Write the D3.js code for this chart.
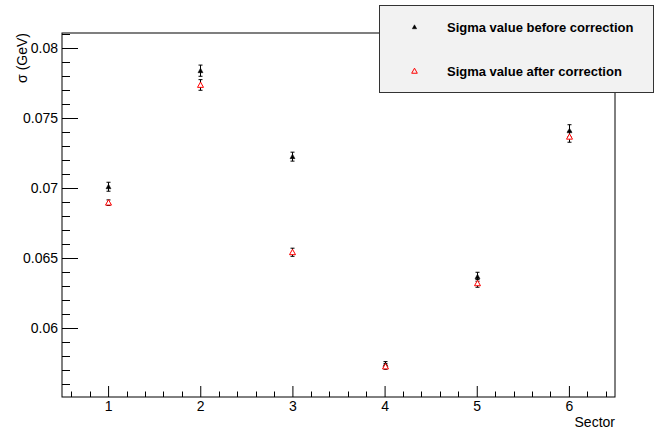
<!DOCTYPE html>
<html><head><meta charset="utf-8">
<script src="https://cdn.jsdelivr.net/npm/d3@7"></script>
<style>body{margin:0;background:#fff}svg{display:block}text{font-family:"Liberation Sans",Arial,sans-serif}</style>
</head><body><svg id="c" width="665" height="432"></svg>
<script>
const sectors = [1, 2, 3, 4, 5, 6];
const before = [0.07009, 0.07838, 0.07224, 0.05739, 0.06366, 0.07409];
const beforeErr = [0.00032, 0.00040, 0.00032, 0.00021, 0.00032, 0.00043];
const after = [0.06895, 0.07736, 0.06541, 0.05725, 0.06319, 0.07366];
const afterErr = [0.00020, 0.00038, 0.00029, 0.00020, 0.00028, 0.00039];
const yTicks = [0.06, 0.065, 0.07, 0.075, 0.08];
const yTickLabels = ["0.06", "0.065", "0.07", "0.075", "0.08"];
const xTicks = [1, 2, 3, 4, 5, 6];
const legendLabels = ["Sigma value before correction", "Sigma value after correction"];

const svg = d3.select("#c");
const L = 62, R = 615, T = 33, B = 397;
const x = d3.scaleLinear().domain([0.5, 6.5]).range([L, R]);
const y = d3.scaleLinear().domain([0.080 - (B - 48) / 14000, 0.080 + (48 - T) / 14000]).range([B, T]);

// frame
svg.append("rect").attr("x", L).attr("y", T).attr("width", R - L).attr("height", B - T)
  .attr("fill", "none").attr("stroke", "#000").attr("stroke-width", 1);

// y axis ticks
const yAxis = d3.axisLeft(y).tickValues(yTicks).tickSize(-16).tickPadding(4)
  .tickFormat((d, i) => yTickLabels[i]);
const ya = svg.append("g").attr("transform", `translate(${L},0)`).call(yAxis);
ya.select(".domain").remove();
ya.selectAll("text").attr("x", -4).style("font-size", "14px").attr("fill", "#000").attr("text-anchor", "end");
ya.selectAll("line").attr("stroke", "#000");
const yMinor = d3.range(0.055, 0.0812, 0.001).filter(v => v >= y.domain()[0] && v <= y.domain()[1] && !yTicks.some(t => Math.abs(t - v) < 1e-7));
svg.append("g").selectAll("line").data(yMinor).join("line")
  .attr("x1", L).attr("x2", L + 8).attr("y1", d => Math.round(y(d)) + 0.5).attr("y2", d => Math.round(y(d)) + 0.5)
  .attr("stroke", "#000");

// x axis
const xAxis = d3.axisBottom(x).tickValues(xTicks).tickSize(-11).tickPadding(6).tickFormat(d3.format("d"));
const xa = svg.append("g").attr("transform", `translate(0,${B})`).call(xAxis);
xa.select(".domain").remove();
xa.selectAll("text").attr("y", 4).attr("dy", "0.71em").style("font-size", "14px").attr("fill", "#000");
xa.selectAll("line").attr("stroke", "#000");
const xMinor = d3.range(0.6, 6.5, 0.2).filter(v => !xTicks.some(t => Math.abs(t - v) < 1e-7));
svg.append("g").selectAll("line").data(xMinor).join("line")
  .attr("x1", d => Math.round(x(d)) + 0.5).attr("x2", d => Math.round(x(d)) + 0.5)
  .attr("y1", B).attr("y2", B - 5.5).attr("stroke", "#000");

// axis titles
svg.append("text").attr("x", R).attr("y", 427).attr("text-anchor", "end")
  .style("font-size", "14px").text("Sector");
svg.append("text").attr("transform", `translate(27,${T}) rotate(-90)`).attr("text-anchor", "end")
  .style("font-size", "14px").text("σ (GeV)");

// data
function tri(cx, cy, h) {
  return `M${cx},${cy - h}L${cx + h},${cy + h * 0.8}L${cx - h},${cy + h * 0.8}Z`;
}
function drawSeries(vals, errs, filled, color) {
  const g = svg.append("g");
  sectors.forEach((s, i) => {
    const cx = Math.round(x(s)) + 0.5;
    const y1 = y(vals[i] - errs[i]), y2 = y(vals[i] + errs[i]);
    g.append("line").attr("x1", cx).attr("x2", cx).attr("y1", y1).attr("y2", y2).attr("stroke", "#000");
    g.append("line").attr("x1", cx - 2).attr("x2", cx + 2).attr("y1", y1).attr("y2", y1).attr("stroke", "#000");
    g.append("line").attr("x1", cx - 2).attr("x2", cx + 2).attr("y1", y2).attr("y2", y2).attr("stroke", "#000");
    const cy = y(vals[i]);
    g.append("path").attr("d", tri(cx, cy, filled ? 2.5 : 3))
      .attr("fill", filled ? color : "#fff").attr("stroke", color).attr("stroke-width", filled ? 0.5 : 1);
  });
}
drawSeries(before, beforeErr, true, "#000");
drawSeries(after, afterErr, false, "#ff0000");

// legend
const lg = svg.append("g");
lg.append("rect").attr("x", 379.5).attr("y", 5.5).attr("width", 274).attr("height", 87)
  .attr("fill", "#f2f2f2").attr("stroke", "#333").attr("stroke-width", 1);
const legY = [27, 71];
[[true, "#000"], [false, "#ff0000"]].forEach((m, i) => {
  const cx = 414.5, cy = legY[i];
  lg.append("path").attr("d", tri(cx, cy, m[0] ? 2.2 : 2.8))
    .attr("fill", m[0] ? m[1] : "none").attr("stroke", m[1]).attr("stroke-width", m[0] ? 0.5 : 1);
  lg.append("text").attr("x", 447).attr("y", legY[i]).attr("dy", "0.35em")
    .style("font-size", "13px").style("font-weight", "bold").text(legendLabels[i]);
});
</script></body></html>
